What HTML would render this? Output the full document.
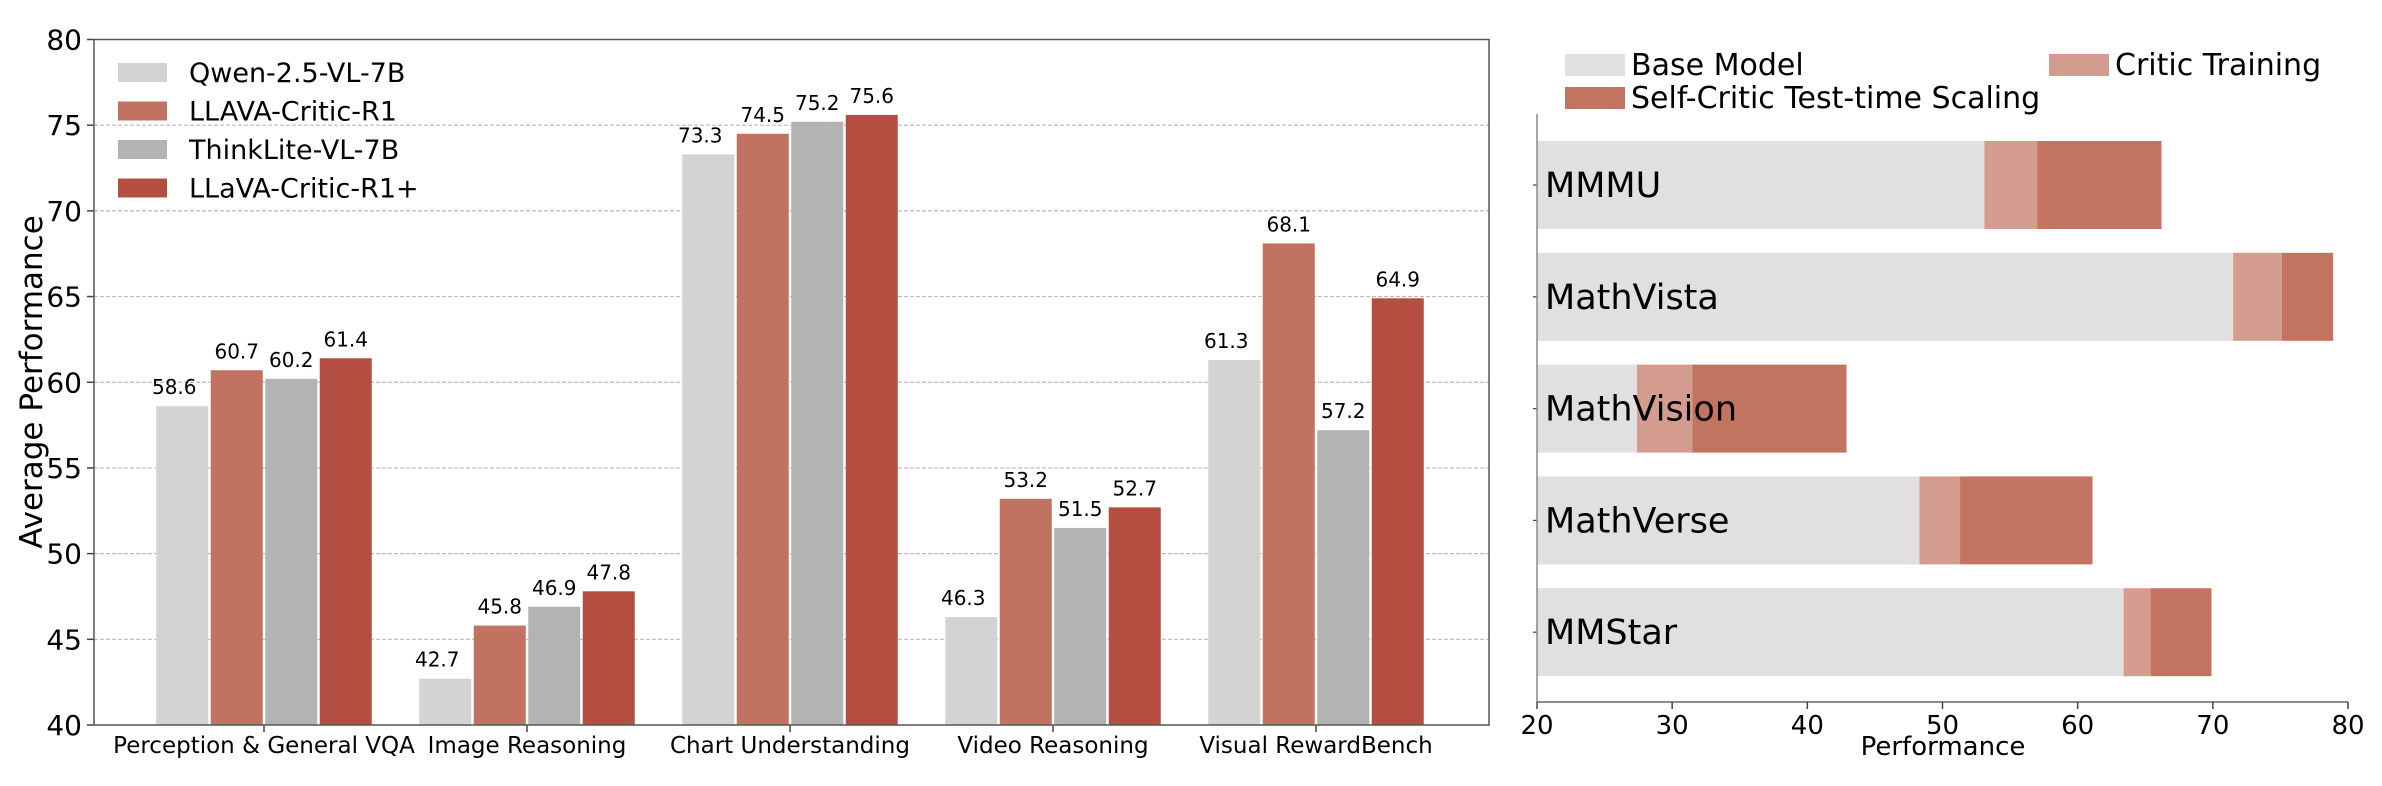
<!DOCTYPE html>
<html><head><meta charset="utf-8"><style>
html,body{margin:0;padding:0;background:#fff;}
svg{display:block;font-family:"DejaVu Sans","Liberation Sans",sans-serif;}
</style></head><body>
<svg id="chart" width="2382" height="786" viewBox="0 0 2382 786" xmlns="http://www.w3.org/2000/svg"></svg>
<script>
// Left chart data
const categories = ["Perception & General VQA","Image Reasoning","Chart Understanding","Video Reasoning","Visual RewardBench"];
const seriesNames = ["Qwen-2.5-VL-7B","LLAVA-Critic-R1","ThinkLite-VL-7B","LLaVA-Critic-R1+"];
const qwenVals = [58.6,42.7,73.3,46.3,61.3];
const criticVals = [60.7,45.8,74.5,53.2,68.1];
const thinkVals = [60.2,46.9,75.2,51.5,57.2];
const criticPlusVals = [61.4,47.8,75.6,52.7,64.9];
const yTicks = [40,45,50,55,60,65,70,75,80];
// Right chart data
const benchmarks = ["MMMU","MathVista","MathVision","MathVerse","MMStar"];
const baseVals = [53.1,71.5,27.4,48.3,63.4];
const criticTrainVals = [57.0,75.1,31.5,51.3,65.4];
const scalingVals = [66.2,78.9,42.9,61.1,69.9];
const xTicks = [20,30,40,50,60,70,80];

const NS="http://www.w3.org/2000/svg";
const svg=document.getElementById('chart');
function mk(tag,attrs,parent){const e=document.createElementNS(NS,tag);for(const k in attrs)e.setAttribute(k,attrs[k]);(parent||svg).appendChild(e);return e;}
function txt(s,attrs,parent){const e=mk('text',attrs,parent);e.textContent=s;return e;}

// ---- Left chart ----
const L={x0:94,x1:1489,yTop:39.5,yBot:725,min:40,max:80};
const yL=v=>L.yBot-(v-L.min)/(L.max-L.min)*(L.yBot-L.yTop);
const gStart=264, gStep=263, barW=52, barStep=54.5;
const xGroup=i=>gStart+i*gStep;
const gl=mk('g',{});


yTicks.forEach(t=>{
  if(t>L.min&&t<L.max){const ln=mk('line',{x1:L.x0,x2:L.x1,y1:yL(t),y2:yL(t),stroke:'#bbb','stroke-width':1.2,'stroke-dasharray':'4,2'},gl);
  }
  mk('line',{x1:L.x0-7,x2:L.x0,y1:yL(t),y2:yL(t),stroke:'#444','stroke-width':1.5},gl);
  const tl=txt(String(t),{x:L.x0-12,y:yL(t)+10,'text-anchor':'end','font-size':28,fill:'#000'},gl);
  
});
const seriesVals=[qwenVals,criticVals,thinkVals,criticPlusVals];
const seriesColors=['#d3d3d3','#c27261','#b3b3b3','#b34e40'];
seriesVals.forEach((vals,s)=>{
  vals.forEach((v,i)=>{
    const cx=xGroup(i)+(s-1.5)*barStep;
    const r=mk('rect',{x:cx-barW/2,y:yL(v),width:barW,height:yL(L.min)-yL(v),fill:seriesColors[s]},gl);
    
    
    const vl=txt(v.toFixed(1),{x:cx-(s===0?8:0),y:yL(v)-12,'text-anchor':'middle','font-size':20,fill:'#000'},gl);
    
  });
});
categories.forEach((c,i)=>{
  mk('line',{x1:xGroup(i),x2:xGroup(i),y1:L.yBot,y2:L.yBot+7,stroke:'#444','stroke-width':1.5},gl);
  const cl=txt(c,{x:xGroup(i),y:L.yBot+28,'text-anchor':'middle','font-size':23,fill:'#000'},gl);
  
});
const frame=mk('rect',{x:L.x0,y:L.yTop,width:L.x1-L.x0,height:L.yBot-L.yTop,fill:'none',stroke:'#555','stroke-width':1.5},gl);

const yt=txt('Average Performance',{x:0,y:0,transform:'translate(42,382) rotate(-90)','text-anchor':'middle','font-size':31,fill:'#000'},gl);

// legend
const lg=mk('g',{},gl);

seriesNames.forEach((n,s)=>{
  const yy=72+s*38.5;
  const p=mk('rect',{x:118,y:yy-9,width:49,height:19,fill:seriesColors[s]},lg);
  
  const t=txt(n,{x:189,y:yy+10,'font-size':27,fill:'#000'},lg);
  
});

// ---- Right chart ----
const R={x0:1537,x1:2348,yTop:114,yBot:702,min:20,max:80};
const xR=v=>R.x0+(v-R.min)/(R.max-R.min)*(R.x1-R.x0);
const rowTop=141, rowStep=111.8, rowH=88;
const gr=mk('g',{});


benchmarks.forEach((b,i)=>{
  const y=rowTop+i*rowStep;
  const segs=[[R.min,baseVals[i],'#e0e0e0','base'],[baseVals[i],criticTrainVals[i],'#d49c8e','critic-training'],[criticTrainVals[i],scalingVals[i],'#c27461','test-time-scaling']];
  segs.forEach(sg=>{
    const r=mk('rect',{x:xR(sg[0]),y:y,width:xR(sg[1])-xR(sg[0]),height:rowH,fill:sg[2]},gr);
    
    
  });
  mk('line',{x1:R.x0-4,x2:R.x0,y1:y+rowH/2,y2:y+rowH/2,stroke:'#444','stroke-width':1.2},gr);
  const t=txt(b,{x:1545,y:y+rowH/2+12,'font-size':35,fill:'#000'},gr);
  
});
mk('line',{x1:R.x0,x2:R.x0,y1:R.yTop,y2:R.yBot,stroke:'#888','stroke-width':1.5},gr);
mk('line',{x1:R.x0,x2:R.x1,y1:R.yBot,y2:R.yBot,stroke:'#666','stroke-width':1.5},gr);
xTicks.forEach(t=>{
  mk('line',{x1:xR(t),x2:xR(t),y1:R.yBot,y2:R.yBot+7,stroke:'#444','stroke-width':1.5},gr);
  const tl=txt(String(t),{x:xR(t),y:R.yBot+32,'text-anchor':'middle','font-size':26,fill:'#000'},gr);
  
});
const xt=txt('Performance',{x:1943,y:755,'text-anchor':'middle','font-size':26,fill:'#000'},gr);

const lg2=mk('g',{},gr);

[[1565,54,'#e0e0e0','Base Model'],[2049,54,'#d49c8e','Critic Training'],[1565,87,'#c27461','Self-Critic Test-time Scaling']].forEach(e=>{
  const p=mk('rect',{x:e[0],y:e[1],width:60,height:22,fill:e[2]},lg2);
  
  const t=txt(e[3],{x:e[0]+66,y:e[1]+21,'font-size':30,fill:'#000'},lg2);
  
});
</script>
</body></html>
